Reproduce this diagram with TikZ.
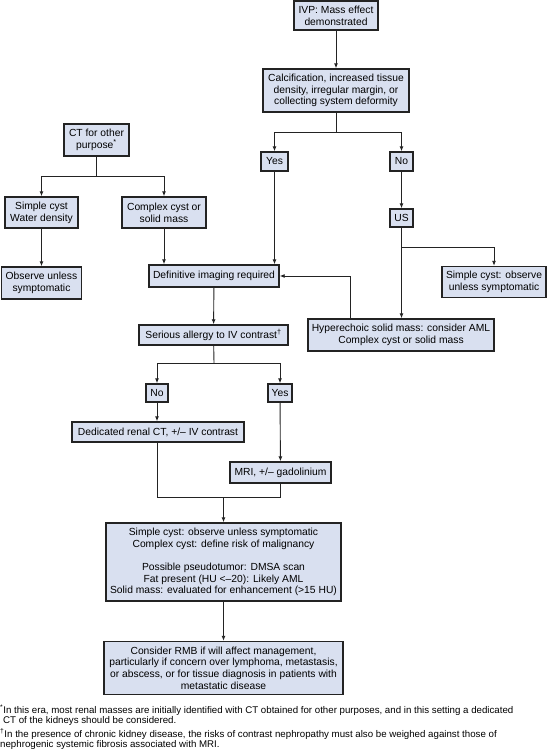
\documentclass[tikz,border=0pt]{standalone}
\usepackage{fontspec}
\setmainfont{Liberation Sans}
\usetikzlibrary{arrows.meta}
\definecolor{boxfill}{RGB}{217,224,240}
\definecolor{edge}{RGB}{35,35,35}
\begin{document}
\begin{tikzpicture}[x=1pt,y=-1pt,
  bx/.style={draw=edge, fill=boxfill, line width=1.4pt, inner sep=0pt, align=center, font=\fontsize{10.3}{11.7}\selectfont},
  con/.style={draw=edge, line width=0.9pt},
  arr/.style={con, -{Latex[length=5pt,width=4pt]}},
  fn/.style={anchor=west, inner sep=0pt, font=\fontsize{9.7}{11}\selectfont}]
\path[use as bounding box, fill=white] (0,0) rectangle (547,750);

% top right column
\node[bx, minimum width=84pt, minimum height=29pt] (ivp) at (336,15.5) {IVP: Mass effect\\demonstrated};
\node[bx, minimum width=146pt, minimum height=43pt] (calc) at (336,90.5) {Calcification, increased tissue\\density, irregular margin, or\\collecting system deformity};
\node[bx, minimum width=27pt, minimum height=19pt] (yes1) at (274.5,161.5) {Yes};
\node[bx, minimum width=23pt, minimum height=19pt] (no1) at (401.5,161.5) {No};
\node[bx, minimum width=23pt, minimum height=18pt] (us) at (401.5,218) {US};
\node[bx, minimum width=104pt, minimum height=31pt] (sc2) at (494,282) {Simple cyst: observe\\unless symptomatic};
\node[bx, minimum width=186pt, minimum height=32pt] (hyp) at (401,335) {Hyperechoic solid mass: consider AML\\Complex cyst or solid mass};

% left column
\node[bx, minimum width=65pt, minimum height=32pt] (ct) at (96.5,140) {CT for other\\purpose\textsuperscript{*}};
\node[bx, minimum width=73pt, minimum height=31pt] (sc1) at (41.5,212.5) {Simple cyst\\Water density};
\node[bx, minimum width=84pt, minimum height=31pt] (cx) at (164,212.5) {Complex cyst or\\solid mass};
\node[bx, minimum width=80pt, minimum height=32pt] (obs) at (41.5,283) {Observe unless\\symptomatic};

% centre column
\node[bx, minimum width=130pt, minimum height=22pt] (def) at (214,276) {Definitive imaging required};
\node[bx, minimum width=149pt, minimum height=20pt] (all) at (213.5,335) {Serious allergy to IV contrast\textsuperscript{†}};
\node[bx, minimum width=22pt, minimum height=18pt] (no2) at (157,393) {No};
\node[bx, minimum width=24pt, minimum height=18pt] (yes2) at (280,393) {Yes};
\node[bx, minimum width=172pt, minimum height=20pt] (dct) at (158,432) {Dedicated renal CT, +/– IV contrast};
\node[bx, minimum width=101pt, minimum height=21pt] (mri) at (280.5,472.5) {MRI, +/– gadolinium};
\node[bx, minimum width=235pt, minimum height=78pt] (big) at (223.5,562) {Simple cyst: observe unless symptomatic\\Complex cyst: define risk of malignancy\\[11.7pt]Possible pseudotumor: DMSA scan\\Fat present (HU <–20): Likely AML\\Solid mass: evaluated for enhancement (>15 HU)};
\node[bx, minimum width=239pt, minimum height=53pt] (rmb) at (223.5,668) {Consider RMB if will affect management,\\particularly if concern over lymphoma, metastasis,\\or abscess, or for tissue diagnosis in patients with\\metastatic disease};

% junction coordinates
\coordinate (j1) at (336,132);
\coordinate (j2) at (401.5,247);
\coordinate (j3) at (350,276);
\coordinate (j4) at (96.5,176);
\coordinate (j5) at (214,363);
\coordinate (j6) at (157,497);
\coordinate (j7) at (280.5,497);
\coordinate (j8) at (223.5,497);

% connectors
\draw[arr] (ivp) -- (calc);
\draw[con] (calc) -- (j1);
\draw[arr] (j1) -| (yes1);
\draw[arr] (j1) -| (no1);
\draw[arr] (yes1) -- (yes1 |- def.north);
\draw[arr] (no1) -- (us);
\draw[arr] (us) -- (us |- hyp.north);
\draw[arr] (j2) -| (sc2);
\draw[con] (hyp.north -| j3) -- (j3);
\draw[arr] (j3) -- (def.east);
\draw[con] (ct) -- (j4);
\draw[arr] (j4) -| (sc1);
\draw[arr] (j4) -| (cx);
\draw[arr] (sc1) -- (obs);
\draw[arr] (cx) -- (cx |- def.north);
\draw[arr] (def) -- (all);
\draw[con] (all) -- (j5);
\draw[arr] (j5) -| (no2);
\draw[arr] (j5) -| (yes2);
\draw[arr] (no2) -- (no2 |- dct.north);
\draw[arr] (yes2) -- (mri);
\draw[con] (no2 |- dct.south) -- (j6) -- (j7) -- (mri.south -| j7);
\draw[arr] (j8) -- (big);
\draw[arr] (big) -- (rmb);

% footnotes
\node[fn] (f1) at (0,710) {\textsuperscript{*}In this era, most renal masses are initially identified with CT obtained for other purposes, and in this setting a dedicated};
\node[fn] (f2) at (3,721) {CT of the kidneys should be considered.};
\node[fn] (f3) at (0,734) {\textsuperscript{†}In the presence of chronic kidney disease, the risks of contrast nephropathy must also be weighed against those of};
\node[fn] (f4) at (0,745) {nephrogenic systemic fibrosis associated with MRI.};
\end{tikzpicture}
\end{document}
